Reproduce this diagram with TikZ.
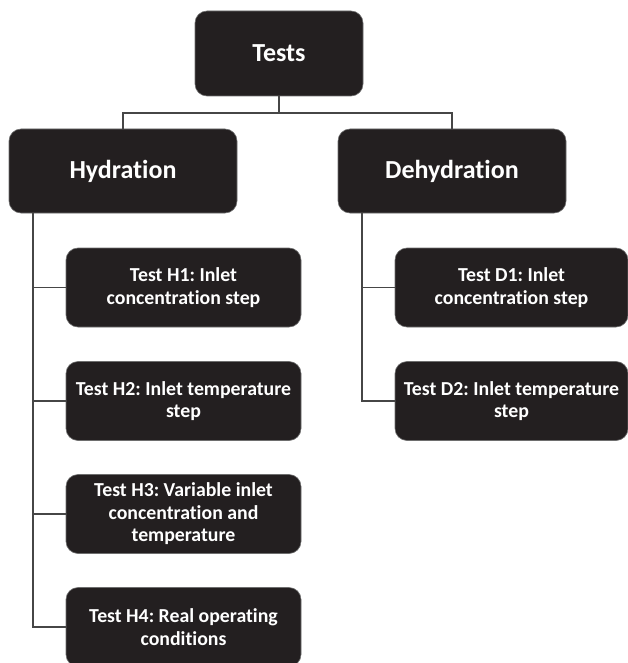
\documentclass[tikz,border=0pt]{standalone}
\usepackage{fontspec}
\setmainfont[Ligatures={NoCommon,NoDiscretionary,NoRare,NoContextual}]{Carlito}
\frenchspacing
\begin{document}
\begin{tikzpicture}[x=1pt,y=-1pt,
  box/.style={draw={rgb,255:red,110;green,110;blue,110},line width=0.6pt,fill={rgb,255:red,35;green,31;blue,32},rounded corners=12pt,text=white,font=\bfseries,align=center,inner sep=0pt},
  big/.style={box,font=\bfseries\fontsize{26}{29}\selectfont},
  small/.style={box,font=\bfseries\fontsize{19.8}{22.5}\selectfont,minimum width=235pt,minimum height=79pt},
  conn/.style={draw={rgb,255:red,70;green,70;blue,70},line width=1.3pt}]
\useasboundingbox (0,0) rectangle (628,663);
\node[big,minimum width=168pt,minimum height=85pt] (tests) at (279,53.5) {Tests};
\node[big,minimum width=228pt,minimum height=84pt] (hyd) at (123,171) {Hydration};
\node[big,minimum width=228pt,minimum height=84pt] (dehyd) at (452,171) {Dehydration};
\node[small] (h1) at (183.5,287.5) {Test H1: Inlet\\concentration step};
\node[small] (h2) at (183.5,401) {Test H2: Inlet temperature\\step};
\node[small] (h3) at (183.5,514) {Test H3: Variable inlet\\concentration and\\temperature};
\node[small] (h4) at (183.5,627) {Test H4: Real operating\\conditions};
\node[small,minimum width=233pt] (d1) at (511.5,287.5) {Test D1: Inlet\\concentration step};
\node[small,minimum width=233pt] (d2) at (511.5,401) {Test D2: Inlet temperature\\step};
\coordinate (bus) at (279,113);
\coordinate (ht) at (33,213);
\coordinate (dt) at (362,213);
\draw[conn] (tests.south) -- (bus);
\draw[conn] (hyd.north) |- (bus) -| (dehyd.north);
\draw[conn] (ht) |- (h4.west);
\draw[conn] (h1.west) -- (h1.west -| ht);
\draw[conn] (h2.west) -- (h2.west -| ht);
\draw[conn] (h3.west) -- (h3.west -| ht);
\draw[conn] (dt) |- (d2.west);
\draw[conn] (d1.west) -- (d1.west -| dt);
\end{tikzpicture}
\end{document}
